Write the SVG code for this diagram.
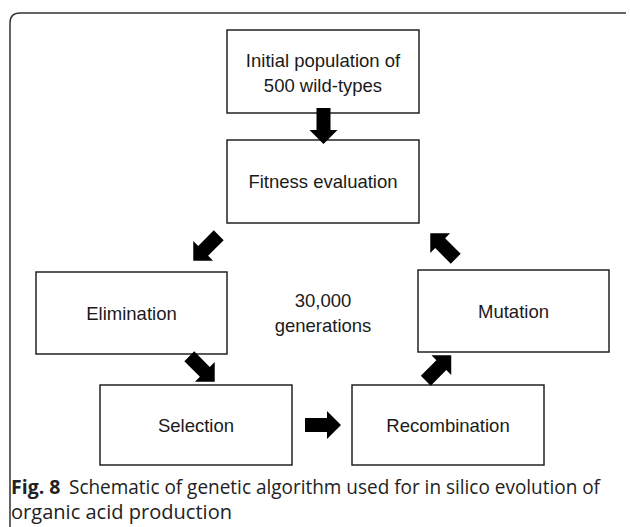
<svg xmlns="http://www.w3.org/2000/svg" width="630" height="527" viewBox="0 0 630 527">
<style>
.box{fill:#fff;stroke:#222;stroke-width:1.5}
.lbl{font-family:"Liberation Sans",Arial,sans-serif;font-size:18.5px;fill:#1a1a1a;text-anchor:middle}
.cap{font-family:"Open Sans","Noto Sans",sans-serif;font-size:19.5px;fill:#222}
.arr{fill:#000}
</style>
<defs>
<path id="arrow" d="M-18,-7 L4,-7 L4,-14 L18,0 L4,14 L4,7 L-18,7 Z"/>
</defs>
<path d="M10,527 V23 Q10,13 20,13 H626" fill="none" stroke="#333" stroke-width="1.5"/>
<g id="initial"><rect class="box" x="227" y="30" width="192" height="83"/><text class="lbl" x="323" y="67">Initial population of</text><text class="lbl" x="323" y="92">500 wild-types</text></g>
<g id="fitness"><rect class="box" x="227" y="140" width="192" height="83"/><text class="lbl" x="323" y="188">Fitness evaluation</text></g>
<g id="elimination"><rect class="box" x="36" y="272" width="191" height="82"/><text class="lbl" x="131.5" y="319.5">Elimination</text></g>
<g id="mutation"><rect class="box" x="418" y="270" width="191" height="82"/><text class="lbl" x="513.5" y="317.5">Mutation</text></g>
<g id="selection"><rect class="box" x="100" y="385" width="192" height="80"/><text class="lbl" x="196" y="431.5">Selection</text></g>
<g id="recombination"><rect class="box" x="352" y="385" width="192" height="80"/><text class="lbl" x="448" y="431.5">Recombination</text></g>
<g id="note"><text class="lbl" x="323" y="307">30,000</text><text class="lbl" x="323" y="332">generations</text></g>
<g id="connectors" class="arr">
<use href="#arrow" transform="translate(323.5,126) rotate(90)"/>
<use href="#arrow" transform="translate(206,248) rotate(135)"/>
<use href="#arrow" transform="translate(443,246) rotate(225)"/>
<use href="#arrow" transform="translate(202,369) rotate(45)"/>
<use href="#arrow" transform="translate(438.5,368) rotate(-45)"/>
<use href="#arrow" transform="translate(323,425) rotate(0)"/>
</g>
<g id="caption">
<text class="cap" x="11" y="494" font-weight="bold" font-size="20.5">Fig. 8</text>
<text class="cap" x="69" y="494" textLength="531" lengthAdjust="spacingAndGlyphs">Schematic of genetic algorithm used for in silico evolution of</text>
<text class="cap" x="11" y="519" textLength="221" lengthAdjust="spacingAndGlyphs">organic acid production</text>
</g>
</svg>
